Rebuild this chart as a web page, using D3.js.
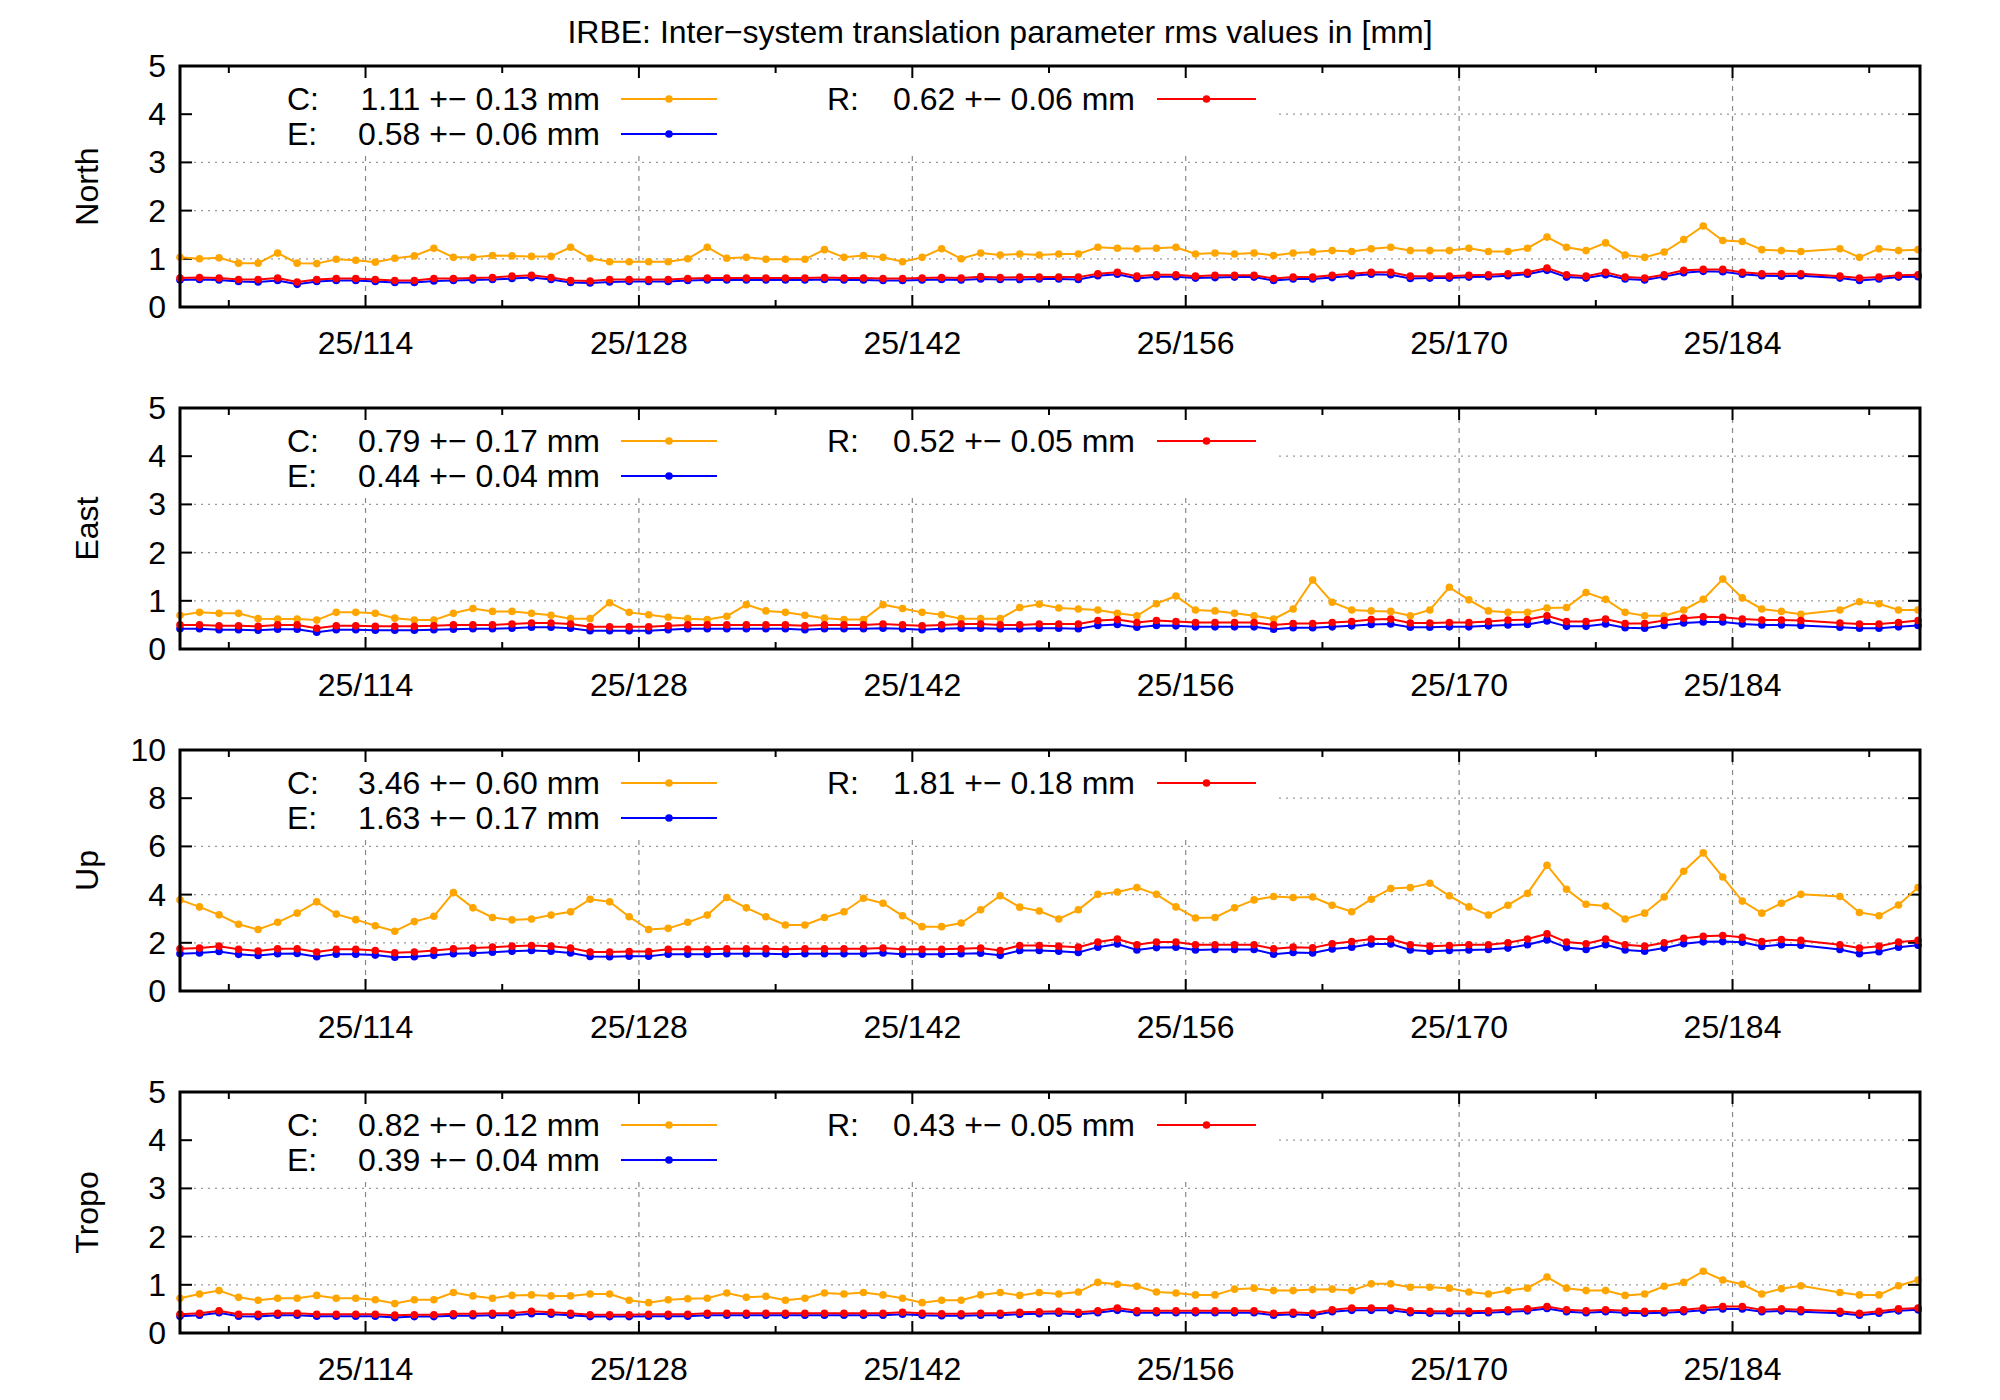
<!DOCTYPE html>
<html><head><meta charset="utf-8">
<script src="https://cdn.jsdelivr.net/npm/d3@7"></script>
<style>body{margin:0;background:#fff}svg text{font-family:"Liberation Sans",Arial,sans-serif;fill:#000}</style>
</head><body><svg id="c" width="2000" height="1400"></svg>
<script>
const days = [104.5,105.5,106.5,107.5,108.5,109.5,110.5,111.5,112.5,113.5,114.5,115.5,116.5,117.5,118.5,119.5,120.5,121.5,122.5,123.5,124.5,125.5,126.5,127.5,128.5,129.5,130.5,131.5,132.5,133.5,134.5,135.5,136.5,137.5,138.5,139.5,140.5,141.5,142.5,143.5,144.5,145.5,146.5,147.5,148.5,149.5,150.5,151.5,152.5,153.5,154.5,155.5,156.5,157.5,158.5,159.5,160.5,161.5,162.5,163.5,164.5,165.5,166.5,167.5,168.5,169.5,170.5,171.5,172.5,173.5,174.5,175.5,176.5,177.5,178.5,179.5,180.5,181.5,182.5,183.5,184.5,185.5,186.5,187.5,189.5,190.5,191.5,192.5,193.5];
const xTickDays = [114,128,142,156,170,184];
const xTickLabels = ["25/114","25/128","25/142","25/156","25/170","25/184"];
const minorTickDays = [107,121,135,149,163,177,191];
const panelNames = ["North","East","Up","Tropo"];
const yMax = [5,5,10,5];
const yStep = [1,1,2,1];

const northC = [1.03,1.0,1.02,0.91,0.91,1.12,0.91,0.9,0.99,0.97,0.93,1.01,1.06,1.22,1.03,1.03,1.07,1.06,1.05,1.05,1.24,1.01,0.94,0.94,0.94,0.94,1.0,1.24,1.01,1.03,0.99,0.99,0.99,1.19,1.03,1.07,1.03,0.94,1.03,1.21,1.0,1.12,1.08,1.1,1.08,
1.10,1.10,1.24,1.22,1.21,1.22,1.24,1.10,1.12,1.10,1.12,1.07,1.12,1.14,1.17,1.15,1.21,1.24,1.17,1.17,1.17,1.22,1.15,1.15,1.22,1.45,1.24,1.17,1.33,1.08,1.03,1.14,1.40,1.68,1.38,1.36,1.19,1.17,1.15,1.21,1.03,1.21,1.17,1.19];
const northE = [0.56,0.57,0.56,0.53,0.52,0.55,0.47,0.53,0.55,0.55,0.53,0.51,0.51,0.54,0.55,0.56,0.57,0.59,0.61,0.57,0.51,0.50,0.52,0.53,0.53,0.53,0.55,0.56,0.56,0.56,0.56,0.56,0.56,0.57,0.56,0.56,0.55,0.55,0.56,0.57,0.56,0.58,0.57,0.57,0.58,
0.58,0.57,0.65,0.68,0.59,0.63,0.63,0.60,0.61,0.62,0.62,0.55,0.58,0.58,0.61,0.65,0.68,0.67,0.59,0.60,0.60,0.62,0.63,0.65,0.68,0.76,0.62,0.60,0.67,0.58,0.56,0.63,0.71,0.74,0.73,0.68,0.65,0.64,0.65,0.60,0.55,0.58,0.62,0.63];
const northR = [0.60,0.61,0.60,0.57,0.57,0.60,0.52,0.57,0.59,0.59,0.57,0.55,0.55,0.59,0.59,0.60,0.61,0.64,0.66,0.61,0.55,0.54,0.57,0.57,0.57,0.57,0.59,0.60,0.60,0.60,0.60,0.60,0.60,0.61,0.60,0.60,0.59,0.59,0.60,0.61,0.60,0.63,0.61,0.62,0.62,
0.62,0.62,0.69,0.72,0.64,0.67,0.67,0.64,0.66,0.66,0.66,0.59,0.62,0.62,0.66,0.69,0.72,0.72,0.64,0.64,0.64,0.66,0.67,0.69,0.72,0.81,0.67,0.64,0.72,0.62,0.60,0.67,0.76,0.78,0.78,0.72,0.69,0.69,0.69,0.64,0.60,0.62,0.66,0.67];

const eastC = [0.70,0.76,0.74,0.74,0.63,0.62,0.62,0.60,0.76,0.76,0.74,0.64,0.60,0.60,0.74,0.84,0.78,0.78,0.74,0.70,0.63,0.63,0.96,0.76,0.71,0.66,0.63,0.61,0.68,0.92,0.79,0.76,0.70,0.64,0.61,0.61,0.92,0.84,0.76,0.71,0.63,0.63,0.63,0.86,0.93,
0.85,0.83,0.81,0.74,0.69,0.94,1.10,0.81,0.79,0.74,0.69,0.62,0.83,1.43,0.97,0.81,0.79,0.78,0.69,0.81,1.28,1.02,0.79,0.76,0.76,0.85,0.86,1.17,1.03,0.76,0.69,0.69,0.81,1.03,1.45,1.06,0.83,0.78,0.72,0.81,0.98,0.94,0.81,0.81];
const eastE = [0.42,0.42,0.40,0.40,0.39,0.41,0.41,0.35,0.40,0.40,0.39,0.39,0.39,0.40,0.41,0.42,0.42,0.43,0.45,0.45,0.43,0.38,0.38,0.38,0.38,0.40,0.42,0.42,0.42,0.42,0.42,0.42,0.40,0.42,0.42,0.42,0.43,0.42,0.40,0.42,0.43,0.43,0.42,0.42,0.43,
0.43,0.42,0.49,0.51,0.45,0.49,0.48,0.46,0.46,0.46,0.46,0.41,0.44,0.44,0.46,0.48,0.51,0.52,0.45,0.45,0.46,0.46,0.48,0.50,0.51,0.58,0.47,0.47,0.52,0.44,0.43,0.49,0.54,0.56,0.56,0.52,0.50,0.50,0.49,0.45,0.43,0.43,0.46,0.49];
const eastR = [0.50,0.50,0.48,0.48,0.47,0.50,0.50,0.43,0.48,0.48,0.47,0.47,0.47,0.48,0.50,0.50,0.50,0.52,0.54,0.54,0.52,0.46,0.46,0.46,0.46,0.48,0.50,0.50,0.50,0.50,0.50,0.50,0.48,0.50,0.50,0.50,0.52,0.50,0.48,0.50,0.52,0.52,0.50,0.50,0.52,
0.52,0.52,0.59,0.61,0.55,0.59,0.57,0.55,0.55,0.55,0.55,0.50,0.53,0.53,0.55,0.57,0.61,0.62,0.54,0.54,0.55,0.55,0.57,0.60,0.61,0.69,0.57,0.57,0.62,0.53,0.53,0.59,0.64,0.67,0.66,0.62,0.60,0.60,0.59,0.54,0.52,0.52,0.55,0.59];

const upC = [3.78,3.49,3.16,2.77,2.55,2.85,3.23,3.70,3.19,2.96,2.71,2.48,2.88,3.10,4.08,3.45,3.05,2.95,2.99,3.15,3.29,3.81,3.70,3.08,2.55,2.60,2.85,3.15,3.88,3.45,3.08,2.74,2.74,3.05,3.29,3.85,3.64,3.12,2.67,2.67,2.82,3.37,3.95,3.48,3.32,
2.99,3.37,4.01,4.11,4.29,4.01,3.49,3.03,3.05,3.45,3.78,3.92,3.88,3.90,3.56,3.29,3.81,4.25,4.29,4.47,3.95,3.49,3.15,3.56,4.05,5.22,4.22,3.60,3.53,2.99,3.23,3.90,4.97,5.73,4.73,3.73,3.23,3.64,4.01,3.92,3.26,3.12,3.57,4.29];
const upE = [1.55,1.58,1.64,1.52,1.47,1.55,1.56,1.42,1.53,1.53,1.49,1.40,1.42,1.48,1.55,1.57,1.61,1.65,1.68,1.65,1.58,1.43,1.42,1.44,1.44,1.53,1.53,1.53,1.55,1.55,1.55,1.53,1.55,1.55,1.55,1.55,1.58,1.53,1.53,1.53,1.55,1.57,1.48,1.68,1.68,
1.65,1.60,1.82,1.95,1.70,1.80,1.82,1.70,1.72,1.72,1.72,1.53,1.60,1.58,1.74,1.82,1.95,1.95,1.70,1.65,1.68,1.70,1.72,1.78,1.92,2.12,1.80,1.72,1.92,1.70,1.65,1.78,1.96,2.04,2.05,2.02,1.85,1.92,1.90,1.72,1.55,1.63,1.82,1.90];
const upR = [1.75,1.78,1.86,1.73,1.66,1.75,1.75,1.62,1.73,1.73,1.68,1.59,1.62,1.68,1.75,1.78,1.82,1.86,1.89,1.86,1.78,1.62,1.62,1.64,1.64,1.73,1.73,1.73,1.75,1.75,1.75,1.73,1.75,1.75,1.75,1.75,1.78,1.73,1.73,1.73,1.75,1.78,1.68,1.89,1.89,
1.86,1.82,2.03,2.16,1.92,2.03,2.03,1.92,1.92,1.92,1.92,1.75,1.82,1.79,1.96,2.05,2.16,2.16,1.92,1.86,1.89,1.92,1.92,2.00,2.16,2.37,2.03,1.96,2.16,1.92,1.86,2.00,2.19,2.27,2.30,2.23,2.05,2.14,2.10,1.92,1.78,1.86,2.03,2.10];

const tropoC = [0.72,0.81,0.88,0.74,0.68,0.72,0.72,0.78,0.72,0.72,0.69,0.61,0.69,0.69,0.84,0.77,0.72,0.78,0.79,0.77,0.77,0.81,0.81,0.68,0.63,0.69,0.71,0.72,0.83,0.74,0.76,0.68,0.72,0.83,0.81,0.84,0.79,0.72,0.63,0.68,0.68,0.79,0.84,0.78,0.84,
0.81,0.85,1.05,1.01,0.97,0.85,0.83,0.79,0.79,0.91,0.93,0.88,0.88,0.90,0.91,0.88,1.02,1.02,0.95,0.95,0.93,0.85,0.81,0.88,0.93,1.16,0.93,0.88,0.88,0.78,0.81,0.97,1.05,1.28,1.10,1.01,0.81,0.92,0.98,0.84,0.79,0.79,0.98,1.10];
const tropoE = [0.35,0.37,0.42,0.35,0.34,0.37,0.37,0.35,0.35,0.35,0.35,0.32,0.34,0.34,0.36,0.36,0.37,0.37,0.40,0.39,0.37,0.34,0.34,0.34,0.35,0.35,0.35,0.37,0.37,0.37,0.37,0.37,0.37,0.37,0.37,0.37,0.37,0.39,0.37,0.36,0.36,0.37,0.37,0.39,0.40,
0.41,0.39,0.42,0.47,0.42,0.42,0.42,0.42,0.42,0.42,0.42,0.37,0.39,0.37,0.44,0.47,0.47,0.47,0.42,0.41,0.41,0.41,0.42,0.44,0.46,0.51,0.44,0.42,0.44,0.42,0.41,0.42,0.44,0.47,0.50,0.50,0.44,0.46,0.44,0.41,0.37,0.41,0.46,0.48];
const tropoR = [0.39,0.41,0.46,0.39,0.39,0.41,0.41,0.39,0.39,0.39,0.39,0.37,0.38,0.38,0.40,0.40,0.41,0.41,0.45,0.43,0.41,0.38,0.38,0.38,0.39,0.39,0.39,0.41,0.41,0.41,0.41,0.41,0.41,0.41,0.41,0.41,0.41,0.43,0.41,0.40,0.40,0.41,0.41,0.43,0.44,
0.45,0.43,0.46,0.52,0.46,0.46,0.46,0.46,0.46,0.46,0.46,0.41,0.43,0.41,0.48,0.52,0.52,0.52,0.46,0.45,0.45,0.45,0.46,0.48,0.50,0.55,0.48,0.46,0.48,0.46,0.45,0.46,0.48,0.52,0.55,0.55,0.48,0.50,0.48,0.45,0.41,0.45,0.50,0.52];

const seriesNames = ["C","E","R"];
const seriesColors = ["#ffa500","#0000ff","#ff0000"];
const panelData = [[northC,northE,northR],[eastC,eastE,eastR],[upC,upE,upR],[tropoC,tropoE,tropoR]];
const legendStats = [
 ["1.11 +\u2212 0.13 mm","0.58 +\u2212 0.06 mm","0.62 +\u2212 0.06 mm"],
 ["0.79 +\u2212 0.17 mm","0.44 +\u2212 0.04 mm","0.52 +\u2212 0.05 mm"],
 ["3.46 +\u2212 0.60 mm","1.63 +\u2212 0.17 mm","1.81 +\u2212 0.18 mm"],
 ["0.82 +\u2212 0.12 mm","0.39 +\u2212 0.04 mm","0.43 +\u2212 0.05 mm"]];
const titleText = "IRBE: Inter\u2212system translation parameter rms values in [mm]";

const FS = 32;
const svg = d3.select("#c");
const L = 180, R = 1920, tops = [66,408,750,1092], H = 241;
const x = d3.scaleLinear().domain([104.5,193.6]).range([L,R]);
svg.append("text").attr("x",1000).attr("y",43).attr("text-anchor","middle").attr("font-size",FS).text(titleText);

panelData.forEach((ser,p)=>{
  const top = tops[p], bot = top+H;
  const y = d3.scaleLinear().domain([0,yMax[p]]).range([bot,top]);
  const g = svg.append("g");
  const yt = d3.range(0,yMax[p]+0.001,yStep[p]);
  g.selectAll(".hg").data(yt.filter(v=>v>0&&v<yMax[p])).join("line")
    .attr("x1",L).attr("x2",R).attr("y1",d=>y(d)).attr("y2",d=>y(d))
    .attr("stroke","#999").attr("stroke-width",1.3).attr("stroke-dasharray","2,5");
  g.selectAll(".vg").data(xTickDays).join("line")
    .attr("x1",d=>x(d)).attr("x2",d=>x(d)).attr("y1",top).attr("y2",bot)
    .attr("stroke","#888").attr("stroke-width",1.2).attr("stroke-dasharray","5,5");
  g.append("rect").attr("x",L+2).attr("y",top+2).attr("width",1276-L).attr("height",86).attr("fill","#fff");
  const tk = [];
  xTickDays.forEach(d=>{tk.push([x(d),bot,x(d),bot-12]);tk.push([x(d),top,x(d),top+12]);});
  minorTickDays.forEach(d=>{tk.push([x(d),bot,x(d),bot-7]);tk.push([x(d),top,x(d),top+7]);});
  yt.forEach(v=>{tk.push([L,y(v),L+12,y(v)]);tk.push([R,y(v),R-12,y(v)]);});
  g.selectAll(".tk").data(tk).join("line").attr("x1",d=>d[0]).attr("y1",d=>d[1]).attr("x2",d=>d[2]).attr("y2",d=>d[3]).attr("stroke","#000").attr("stroke-width",2);
  g.selectAll(".yl").data(yt).join("text").attr("x",L-14).attr("y",d=>y(d)+11).attr("text-anchor","end").attr("font-size",FS).text(d=>d);
  g.selectAll(".xl").data(xTickDays).join("text").attr("x",d=>x(d)).attr("y",bot+47).attr("text-anchor","middle").attr("font-size",FS).text((d,i)=>xTickLabels[i]);
  g.append("text").attr("transform",`translate(98,${top+H/2}) rotate(-90)`).attr("text-anchor","middle").attr("font-size",FS).text(panelNames[p]);
  const line = d3.line().x((d,i)=>x(days[i])).y(d=>y(d));
  ser.forEach((vals,s)=>{
    g.append("path").attr("d",line(vals)).attr("fill","none").attr("stroke",seriesColors[s]).attr("stroke-width",2);
    g.selectAll(".pt"+s).data(vals).join("circle").attr("cx",(d,i)=>x(days[i])).attr("cy",d=>y(d)).attr("r",3.8).attr("fill",seriesColors[s]);
  });
  const lg = [[287,600,621,717,top+33],[287,600,621,717,top+68],[827,1135,1157,1256,top+33]];
  lg.forEach((l,s)=>{
    g.append("text").attr("x",l[0]).attr("y",l[4]+11).attr("font-size",FS).text(seriesNames[s]+":");
    g.append("text").attr("x",l[1]).attr("y",l[4]+11).attr("text-anchor","end").attr("font-size",FS).text(legendStats[p][s]);
    g.append("line").attr("x1",l[2]).attr("x2",l[3]).attr("y1",l[4]).attr("y2",l[4]).attr("stroke",seriesColors[s]).attr("stroke-width",2);
    g.append("circle").attr("cx",(l[2]+l[3])/2).attr("cy",l[4]).attr("r",3.8).attr("fill",seriesColors[s]);
  });
  g.append("rect").attr("x",L).attr("y",top).attr("width",R-L).attr("height",H).attr("fill","none").attr("stroke","#000").attr("stroke-width",3);
});
</script></body></html>
